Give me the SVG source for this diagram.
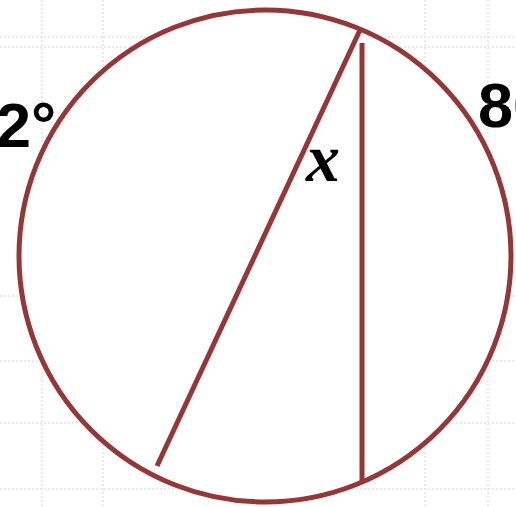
<svg xmlns="http://www.w3.org/2000/svg" width="516" height="507" viewBox="0 0 516 507">
<style>
.grid line{stroke:#e4e4ee;stroke-width:1.5;stroke-dasharray:2 2}
.red{fill:none;stroke:#973735;stroke-width:5}
.lbl{font-family:"Liberation Sans",Arial,sans-serif;font-weight:bold;font-size:63px;fill:#000}
.var{font-family:"Liberation Serif","Times New Roman",serif;font-weight:bold;font-style:italic;font-size:68px;fill:#000}
</style>
<rect width="516" height="507" fill="#ffffff"/>
<g class="grid">
<line x1="42" y1="0" x2="42" y2="507"/>
<line x1="103" y1="0" x2="103" y2="507"/>
<line x1="425" y1="0" x2="425" y2="507"/>
<line x1="488" y1="0" x2="488" y2="507"/>
<line x1="0" y1="37" x2="516" y2="37"/>
<line x1="0" y1="47" x2="516" y2="47"/>
<line x1="0" y1="296" x2="516" y2="296"/>
<line x1="0" y1="361" x2="516" y2="361"/>
<line x1="0" y1="423" x2="516" y2="423"/>
<line x1="0" y1="489" x2="516" y2="489"/>
</g>
<g id="circle">
<circle class="red" cx="265" cy="256" r="246" style="fill:#ffffff"/>
</g>
<g id="chords">
<line class="red" x1="360" y1="30" x2="157" y2="466"/>
<line class="red" x1="362" y1="43" x2="362" y2="483"/>
</g>
<g id="labels">
<text class="lbl" x="-4" y="147">2°</text>
<text class="lbl" x="478" y="127">80°</text>
<text class="var" x="306" y="181">x</text>
</g>
</svg>
